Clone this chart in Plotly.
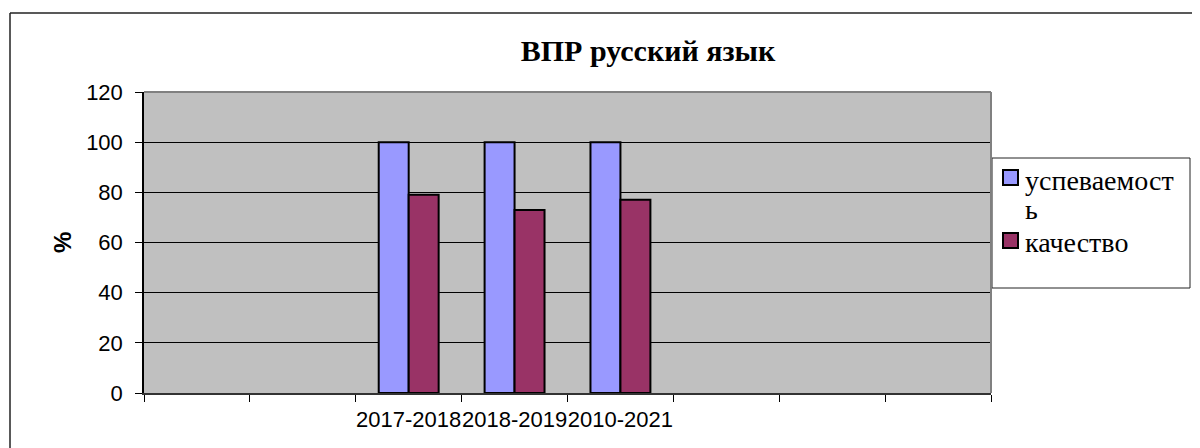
import plotly.graph_objects as go

categories = ["", "", "2017-2018", "2018-2019", "2010-2021", "", "", ""]
uspevaemost = [None, None, 100, 100, 100, None, None, None]
kachestvo = [None, None, 79, 73, 77, None, None, None]
series_names = ["успеваемост", "качество"]
y_ticks = [0, 20, 40, 60, 80, 100, 120]
colors = ["#9999FF", "#993366"]

W, H = 1200, 448
O = 8  # page body margin offset
L, R, T, B = 144 - O, 991 - O, 92 - O, 393 - O
pw, ph = R - L, B - T

def px(x):
    return (x - O - L) / pw

def py(y):
    return (B - (y - O)) / ph

xs = list(range(len(categories)))

fig = go.Figure()
for name, vals, col in zip(series_names, [uspevaemost, kachestvo], colors):
    fig.add_trace(go.Bar(x=xs, y=vals, name=name,
                         marker=dict(color=col, line=dict(color="black", width=2))))

SERIF = "Times New Roman, Liberation Serif, DejaVu Serif, serif"

fig.update_layout(
    width=W, height=H,
    margin=dict(l=L, r=W - R, t=T, b=H - B, pad=0, autoexpand=False),
    paper_bgcolor="white", plot_bgcolor="#C0C0C0",
    barmode="group", bargap=0.434, bargroupgap=0,
    title=dict(text="<b>ВПР русский язык</b>", x=(648 - O) / W, xref="container", xanchor="center",
               y=1 - (50 - O) / H, yref="container", yanchor="middle",
               font=dict(family=SERIF, size=30, color="black")),
    font=dict(family="Liberation Sans", size=22, color="black"),
    showlegend=False,
    xaxis=dict(range=[-0.5, len(categories) - 0.5], tickmode="array", tickvals=xs, ticktext=categories,
               tickangle=0, automargin=False,
               ticks="outside", ticklen=4, tickcolor="rgba(0,0,0,0)", ticklabelstandoff=2,
               showgrid=False, zeroline=False, showline=True, linecolor="#333333", linewidth=2,
               minor=dict(tickmode="array", tickvals=[i - 0.5 for i in range(len(categories) + 1)],
                          ticks="outside", ticklen=7, tickcolor="black", tickwidth=1, showgrid=False),
               tickfont=dict(size=22, family="Liberation Sans")),
    yaxis=dict(range=[0, 120], tickmode="array", tickvals=y_ticks, automargin=False,
               ticks="outside", ticklen=7, tickcolor="black", ticklabelstandoff=8,
               showgrid=True, gridcolor="black", gridwidth=1, zeroline=False,
               showline=True, linecolor="black", linewidth=1.5,
               tickfont=dict(size=22, family="Liberation Sans")),
)

# plot area right/top border
fig.add_shape(type="line", xref="paper", yref="paper", x0=0, x1=1, y0=1, y1=1,
              line=dict(color="#808080", width=2), layer="above")
fig.add_shape(type="line", xref="paper", yref="paper", x0=1, x1=1, y0=0, y1=1,
              line=dict(color="#808080", width=2), layer="above")
# chart outer border (top & left)
fig.add_shape(type="line", xref="paper", yref="paper", x0=px(10), x1=px(1210), y0=py(13), y1=py(13),
              line=dict(color="#222222", width=1.5))
fig.add_shape(type="line", xref="paper", yref="paper", x0=px(10), x1=px(10), y0=py(13), y1=py(460),
              line=dict(color="#222222", width=1.5))
# legend box
fig.add_shape(type="rect", xref="paper", yref="paper", x0=px(992), x1=px(1190), y0=py(288), y1=py(158),
              line=dict(color="#222222", width=1), fillcolor="white", layer="below")

# legend entries (swatch + wrapped label, as in the original)
legend_font = dict(family=SERIF, size=28, color="black")
swatch_tops = [170, 233]
label_lines = [[series_names[0], "ь"], [series_names[1]]]
line_centers = [[180, 209], [242]]
for i, col in enumerate(colors):
    t = swatch_tops[i]
    fig.add_shape(type="rect", xref="paper", yref="paper", x0=px(1003), x1=px(1018),
                  y0=py(t + 15), y1=py(t), line=dict(color="black", width=2), fillcolor=col)
    for txt, yc in zip(label_lines[i], line_centers[i]):
        fig.add_annotation(text=txt, xref="paper", yref="paper", x=px(1023), y=py(yc),
                           showarrow=False, xanchor="left", yanchor="middle", font=legend_font)

fig.add_annotation(text="<b>%</b>", xref="paper", yref="paper", x=px(62), y=py(243),
                   showarrow=False, textangle=-90, xanchor="center", yanchor="middle",
                   font=dict(family="Liberation Sans", size=24, color="black"))

fig.write_html("out.html")
